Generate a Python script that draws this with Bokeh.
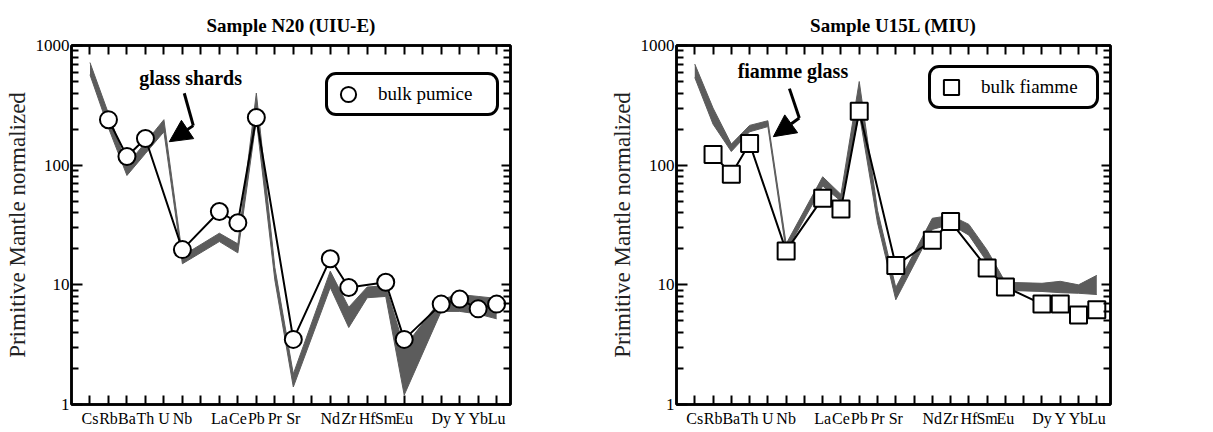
from bokeh.plotting import figure
from bokeh.models import (FixedTicker, LogAxis, LinearAxis, Legend, LegendItem, Label,
                          Arrow, NormalHead, Range1d, BasicTickFormatter)
from bokeh.layouts import row
from bokeh.embed import file_html
from bokeh.resources import INLINE

# ---------------- data ----------------
tick_labels = ["Cs", "Rb", "Ba", "Th", "U", "Nb", "", "La", "Ce", "Pb", "Pr", "Sr", "",
               "Nd", "Zr", "Hf", "Sm", "Eu", "", "Dy", "Y", "Yb", "Lu"]

glass_elements = ["Cs", "Rb", "Ba", "Th", "U", "Nb", "La", "Ce", "Pb", "Pr", "Sr",
                  "Nd", "Zr", "Hf", "Sm", "Eu", "Dy", "Y", "Yb", "Lu"]
bulk_elements = ["Rb", "Ba", "Th", "Nb", "La", "Ce", "Pb", "Sr", "Nd", "Zr", "Sm", "Eu",
                 "Dy", "Y", "Yb", "Lu"]

# Sample N20 (UIU-E)
n20_glass_upper = [720, 270, 100, 155, 240, 17.5, 27, 22, 400, 14, 1.8,
                   13, 6.5, 9.6, 9.8, 3.0, 7.6, 8.3, 8.0, 7.7]
n20_glass_lower = [570, 205, 82, 125, 190, 15, 23, 18.5, 240, 11, 1.4,
                   9.5, 4.4, 7.8, 8.0, 1.2, 6.0, 6.0, 5.7, 5.2]
n20_bulk_pumice = [240, 118, 167, 19.7, 41, 33, 250, 3.5, 16.5, 9.5, 10.5, 3.5,
                   6.9, 7.6, 6.3, 6.9]

# Sample U15L (MIU)
u15l_glass_upper = [700, 300, 150, 215, 235, 22, 80, 57, 500, 42, 9.5,
                    36, 38, 32, 19.5, 10.5, 10.3, 10.7, 10.0, 12.0]
u15l_glass_lower = [540, 220, 130, 190, 210, 19, 67, 50, 270, 33, 7.5,
                    29, 32, 26, 15.5, 9.0, 8.8, 8.6, 8.5, 8.3]
u15l_bulk_fiamme = [123, 84, 152, 19.2, 53, 43, 282, 14.5, 23.6, 33.8, 13.8, 9.6,
                    6.9, 6.9, 5.6, 6.2]

y_major = [1, 10, 100, 1000]
y_minor = [m * 10 ** k for k in range(3) for m in range(2, 10)]

position = {el: i + 1 for i, el in enumerate(tick_labels) if el}

SERIF = "Liberation Serif"
BAND = "#5c5c5c"


def make_panel(title, upper, lower, bulk, marker, legend_label, note, note_xy, arrow_pts,
               width, b_left, b_right, legend_loc, legend_w):
    p = figure(width=width, height=432, x_range=Range1d(0.0, 23.75), y_range=Range1d(1, 1000),
               y_axis_type="log", output_backend="svg", toolbar_location=None,
               min_border_left=b_left, min_border_right=b_right,
               min_border_top=45, min_border_bottom=28, title=title)
    p.title.align = "center"
    p.title.vertical_align = "middle"
    p.title.text_font = SERIF
    p.title.text_font_size = "19px"
    p.title.text_font_style = "bold"
    p.title.text_color = "black"
    p.title.standoff = 18
    p.grid.visible = False
    p.outline_line_color = "black"
    p.outline_line_width = 2.5
    p.background_fill_color = "white"
    p.border_fill_color = "white"

    xt = FixedTicker(ticks=list(range(1, 24)))
    yt = FixedTicker(ticks=y_major, minor_ticks=y_minor)

    xa = p.xaxis[0]
    xa.ticker = xt
    xa.major_label_overrides = {i + 1: lab for i, lab in enumerate(tick_labels)}
    xa.major_tick_in = 9
    xa.major_tick_out = 0
    xa.minor_tick_line_color = None
    xa.major_tick_line_width = 2
    xa.axis_line_width = 2.5
    xa.major_label_text_font = SERIF
    xa.major_label_text_font_size = "16px"
    xa.major_label_text_color = "black"
    xa.major_label_standoff = 5

    ya = p.yaxis[0]
    ya.ticker = yt
    ya.formatter = BasicTickFormatter()
    ya.major_tick_in = 11
    ya.major_tick_out = 0
    ya.minor_tick_in = 7
    ya.minor_tick_out = 0
    ya.major_tick_line_width = 2
    ya.minor_tick_line_width = 2
    ya.axis_line_width = 2.5
    ya.major_label_text_font = SERIF
    ya.major_label_text_font_size = "17px"
    ya.major_label_text_color = "black"
    ya.major_label_standoff = 2
    ya.axis_label = "Primitive Mantle normalized"
    ya.axis_label_text_font = SERIF
    ya.axis_label_text_font_size = "23px"
    ya.axis_label_text_font_style = "normal"
    ya.axis_label_text_color = "#222222"
    ya.axis_label_standoff = 3

    ra = LogAxis(ticker=yt, formatter=BasicTickFormatter(), major_tick_in=9, major_tick_out=0,
                 minor_tick_in=7, minor_tick_out=0,
                 major_tick_line_width=2, minor_tick_line_width=2, axis_line_width=2.5,
                 major_label_text_font_size="6px", major_label_text_color=None,
                 major_label_standoff=0)
    p.add_layout(ra, "right")
    ta = LinearAxis(ticker=xt, major_tick_in=9, major_tick_out=0, minor_tick_line_color=None,
                    major_tick_line_width=2, axis_line_width=2.5,
                    major_label_text_font_size="6px", major_label_text_color=None,
                    major_label_standoff=0)
    p.add_layout(ta, "above")

    gx = [position[e] for e in glass_elements]
    p.varea(x=gx, y1=lower, y2=upper, fill_color=BAND)
    p.line(x=gx, y=upper, line_color=BAND, line_width=1)
    p.line(x=gx, y=lower, line_color=BAND, line_width=1)

    bx = [position[e] for e in bulk_elements]
    p.line(x=bx, y=bulk, line_color="black", line_width=2)
    sc = p.scatter(x=bx, y=bulk, marker=marker, size=17, fill_color="white",
                   line_color="black", line_width=2)

    legend = Legend(items=[LegendItem(label=legend_label, renderers=[sc])],
                    location=legend_loc, padding=0, margin=0, glyph_width=40, glyph_height=38,
                    label_standoff=10, label_width=legend_w,
                    label_text_font=SERIF, label_text_font_size="19px",
                    label_text_color="black",
                    border_line_color="black", border_line_width=3, border_line_alpha=1.0,
                    background_fill_color="white", background_fill_alpha=1.0)
    try:
        legend.border_radius = 11
    except Exception:
        pass
    p.add_layout(legend)

    p.add_layout(Label(x=note_xy[0], y=note_xy[1], text=note, text_align="center",
                       text_baseline="middle", text_font=SERIF, text_font_size="20px",
                       text_font_style="bold", text_color="black"))
    (x0, y0), (x1, y1), (x2, y2) = arrow_pts
    p.add_layout(Arrow(x_start=x0, y_start=y0, x_end=x1, y_end=y1, end=None,
                       line_color="black", line_width=3))
    p.add_layout(Arrow(x_start=x1, y_start=y1, x_end=x2, y_end=y2,
                       end=NormalHead(size=22, fill_color="black", line_color="black"),
                       line_color="black", line_width=3))
    return p


p1 = make_panel("Sample N20 (UIU-E)", n20_glass_upper, n20_glass_lower, n20_bulk_pumice,
                "circle", "bulk pumice", "glass shards", (6.44, 530),
                [(6.10, 399), (6.59, 214), (5.29, 157)],
                600, 71, 90, (254, 288), 118)
p2 = make_panel("Sample U15L (MIU)", u15l_glass_upper, u15l_glass_lower, u15l_bulk_fiamme,
                "square", "bulk fiamme", "fiamme glass", (6.37, 607),
                [(6.18, 436), (6.72, 248), (5.30, 173)],
                613, 76, 103, (252, 295), 115)

layout = row(p1, p2)
open("out.html", "w").write(file_html(layout, INLINE))
